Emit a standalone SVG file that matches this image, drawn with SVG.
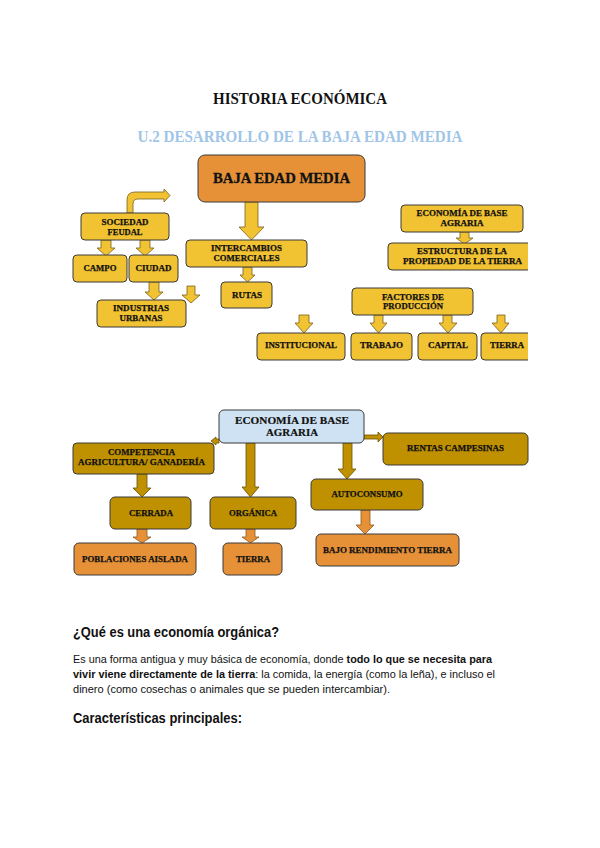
<svg xmlns="http://www.w3.org/2000/svg" width="600" height="848" viewBox="0 0 600 848">
<style>
.bx{stroke:#3b3b3b;stroke-width:1}
.y{fill:#F1C232}
.o{fill:#E69138}
.ol{fill:#BF9000}
.bl{fill:#CFE2F3}
.t{font-family:"Liberation Serif","Times New Roman",serif;font-weight:bold;fill:#111;stroke:#111;stroke-width:0.25;text-anchor:middle;font-size:8.5px}
.ay{fill:#F1C232;stroke:#7a6020;stroke-width:0.8}
.ao{fill:#E69138;stroke:#8a5a20;stroke-width:0.8}
.aol{fill:#BF9000;stroke:#6b5000;stroke-width:0.8}
.s{font-family:"Liberation Sans",Arial,sans-serif;fill:#111}
</style>
<defs>
<clipPath id="clip"><rect x="0" y="0" width="528" height="848"/></clipPath>
</defs>
<rect width="600" height="848" fill="#fff"/>
<text x="300" y="104" font-family="Liberation Serif,serif" font-weight="bold" font-size="16" text-anchor="middle" textLength="174" lengthAdjust="spacingAndGlyphs" fill="#111">HISTORIA ECONÓMICA</text>
<text x="300" y="142" font-family="Liberation Serif,serif" font-weight="bold" font-size="16" text-anchor="middle" textLength="325" lengthAdjust="spacingAndGlyphs" fill="#9FC5E8">U.2 DESARROLLO DE LA BAJA EDAD MEDIA</text>

<g id="connectors">
<path class="ay" d="M127,213 V200 Q127,192 135,192 H164 V189 L170,195.5 L164,202 V199 H138 Q133,199 133,204 V213 Z"/>
<path class="ay" d="M245,202 H258 V227 H264 L251.5,240 L239,227 H245 Z"/>
<path class="ay" d="M243,267 H252 V275 H255 L247.5,282 L240,275 H243 Z"/>
<path class="ay" d="M101,240 H111 V248 H115 L106,256 L97,248 H101 Z"/>
<path class="ay" d="M140,240 H150 V248 H154 L145,256 L136,248 H140 Z"/>
<path class="ay" d="M149,282 H159 V292 H163 L154,300 L145,292 H149 Z"/>
<path class="ay" d="M187,286 H195 V295 H200 L191,303 L182,295 H187 Z"/>
<path class="ay" d="M460,232 H469 V238 H473 L464.5,244 L456,238 H460 Z"/>
<path class="ay" d="M299,315 H309 V323 H313 L304,333 L295,323 H299 Z"/>
<path class="ay" d="M374,315 H383 V323 H387 L378.5,333 L370,323 H374 Z"/>
<path class="ay" d="M443,315 H452 V323 H457 L448,333 L439,323 H443 Z"/>
<path class="ay" d="M497,315 H505 V323 H509 L501,333 L492,323 H497 Z"/>

<path class="aol" d="M219,439 H216 V437 L211,441 L216,445 V443 H219 Z"/>
<path class="aol" d="M246,443 H255 V487 H259 L250.5,497 L242,487 H246 Z"/>
<path class="aol" d="M137,474 H147 V488 H151 L142,497 L133,488 H137 Z"/>
<path class="aol" d="M343,443 H352 V469 H356 L347,479 L338,469 H343 Z"/>
<path class="aol" d="M364,435 H378 V432 L383,437 L378,442 V439 H364 Z"/>
<path class="ao" d="M137,529 H147 V537 H151 L142,543 L133,537 H137 Z"/>
<path class="ao" d="M246,529 H255 V537 H259 L250.5,543 L242,537 H246 Z"/>
<path class="ao" d="M361,510 H370 V525 H374 L365,534 L356,525 H361 Z"/>
</g>

<g id="baja">
<rect class="bx o" x="198" y="155" width="167" height="47" rx="7"/>
<text class="t" x="281.5" y="183" style="font-size:15px;stroke-width:0.3" textLength="137" lengthAdjust="spacingAndGlyphs">BAJA EDAD MEDIA</text>
</g>
<g id="sociedad">
<rect class="bx y" x="81" y="213" width="88" height="27" rx="4"/>
<text class="t" x="125" y="225" textLength="47" lengthAdjust="spacingAndGlyphs">SOCIEDAD</text>
<text class="t" x="125" y="235" textLength="35" lengthAdjust="spacingAndGlyphs">FEUDAL</text>
</g>
<g id="campo">
<rect class="bx y" x="73" y="255" width="54" height="27" rx="4"/>
<text class="t" x="100" y="271" textLength="33" lengthAdjust="spacingAndGlyphs">CAMPO</text>
</g>
<g id="ciudad">
<rect class="bx y" x="129" y="255" width="49" height="27" rx="4"/>
<text class="t" x="153.5" y="271" textLength="36" lengthAdjust="spacingAndGlyphs">CIUDAD</text>
</g>
<g id="industrias">
<rect class="bx y" x="97" y="300" width="89" height="27" rx="4"/>
<text class="t" x="141" y="311" textLength="56" lengthAdjust="spacingAndGlyphs">INDUSTRIAS</text>
<text class="t" x="141" y="321" textLength="43" lengthAdjust="spacingAndGlyphs">URBANAS</text>
</g>
<g id="intercambios">
<rect class="bx y" x="186" y="240" width="121" height="27" rx="4"/>
<text class="t" x="246.5" y="251" textLength="71" lengthAdjust="spacingAndGlyphs">INTERCAMBIOS</text>
<text class="t" x="246.5" y="261" textLength="66" lengthAdjust="spacingAndGlyphs">COMERCIALES</text>
</g>
<g id="rutas">
<rect class="bx y" x="221" y="282" width="51" height="26" rx="4"/>
<text class="t" x="247" y="298" textLength="30" lengthAdjust="spacingAndGlyphs">RUTAS</text>
</g>
<g id="economia1">
<rect class="bx y" x="401" y="205" width="122" height="27" rx="4"/>
<text class="t" x="462" y="216" textLength="91" lengthAdjust="spacingAndGlyphs">ECONOMÍA DE BASE</text>
<text class="t" x="462" y="226" textLength="43" lengthAdjust="spacingAndGlyphs">AGRARIA</text>
</g>
<g id="estructura" clip-path="url(#clip)">
<rect class="bx y" x="388" y="243" width="150" height="27" rx="4"/>
<text class="t" x="462" y="254" textLength="90" lengthAdjust="spacingAndGlyphs">ESTRUCTURA DE LA</text>
<text class="t" x="462.5" y="264" textLength="119" lengthAdjust="spacingAndGlyphs">PROPIEDAD DE LA TIERRA</text>
</g>
<g id="factores">
<rect class="bx y" x="352" y="288" width="121" height="27" rx="4"/>
<text class="t" x="413" y="300" textLength="62" lengthAdjust="spacingAndGlyphs">FACTORES DE</text>
<text class="t" x="413" y="309" textLength="60" lengthAdjust="spacingAndGlyphs">PRODUCCIÓN</text>
</g>
<g id="institucional">
<rect class="bx y" x="257" y="333" width="88" height="27" rx="4"/>
<text class="t" x="301" y="348" textLength="72" lengthAdjust="spacingAndGlyphs">INSTITUCIONAL</text>
</g>
<g id="trabajo">
<rect class="bx y" x="351" y="333" width="61" height="27" rx="4"/>
<text class="t" x="381.5" y="348" textLength="43" lengthAdjust="spacingAndGlyphs">TRABAJO</text>
</g>
<g id="capital">
<rect class="bx y" x="418" y="333" width="59" height="27" rx="4"/>
<text class="t" x="448" y="348" textLength="40" lengthAdjust="spacingAndGlyphs">CAPITAL</text>
</g>
<g id="tierra1" clip-path="url(#clip)">
<rect class="bx y" x="481" y="333" width="55" height="27" rx="4"/>
<text class="t" x="507" y="348" textLength="34" lengthAdjust="spacingAndGlyphs">TIERRA</text>
</g>

<g id="economia2">
<rect class="bx bl" x="219" y="410" width="145" height="33" rx="5" stroke="#555"/>
<text class="t" x="292" y="424" style="font-size:10.5px;stroke-width:0.2" textLength="114" lengthAdjust="spacingAndGlyphs">ECONOMÍA DE BASE</text>
<text class="t" x="292" y="436" style="font-size:10.5px;stroke-width:0.2" textLength="52" lengthAdjust="spacingAndGlyphs">AGRARIA</text>
</g>
<g id="competencia">
<rect class="bx ol" x="73" y="443" width="141" height="31" rx="4"/>
<text class="t" x="141.5" y="455" textLength="67" lengthAdjust="spacingAndGlyphs">COMPETENCIA</text>
<text class="t" x="141.5" y="465" textLength="127" lengthAdjust="spacingAndGlyphs">AGRICULTURA/ GANADERÍA</text>
</g>
<g id="cerrada">
<rect class="bx ol" x="110" y="497" width="81" height="32" rx="5"/>
<text class="t" x="151" y="516" textLength="44" lengthAdjust="spacingAndGlyphs">CERRADA</text>
</g>
<g id="organica">
<rect class="bx ol" x="210" y="497" width="86" height="32" rx="5"/>
<text class="t" x="253" y="516" textLength="48" lengthAdjust="spacingAndGlyphs">ORGÁNICA</text>
</g>
<g id="poblaciones">
<rect class="bx o" x="74" y="543" width="122" height="32" rx="5"/>
<text class="t" x="135" y="562" textLength="106" lengthAdjust="spacingAndGlyphs">POBLACIONES AISLADA</text>
</g>
<g id="tierra2">
<rect class="bx o" x="223" y="543" width="59" height="32" rx="5"/>
<text class="t" x="253" y="562" textLength="34" lengthAdjust="spacingAndGlyphs">TIERRA</text>
</g>
<g id="autoconsumo">
<rect class="bx ol" x="311" y="479" width="112" height="31" rx="5"/>
<text class="t" x="367" y="497" textLength="71" lengthAdjust="spacingAndGlyphs">AUTOCONSUMO</text>
</g>
<g id="bajorend">
<rect class="bx o" x="316" y="534" width="143" height="32" rx="5"/>
<text class="t" x="387.5" y="553" textLength="129" lengthAdjust="spacingAndGlyphs">BAJO RENDIMIENTO TIERRA</text>
</g>
<g id="rentas">
<rect class="bx ol" x="383" y="433" width="145" height="32" rx="5"/>
<text class="t" x="455.5" y="451" textLength="97" lengthAdjust="spacingAndGlyphs">RENTAS CAMPESINAS</text>
</g>

<text class="s" x="73" y="637" font-size="14" font-weight="bold" textLength="206" lengthAdjust="spacingAndGlyphs">¿Qué es una economía orgánica?</text>
<text class="s" x="73" y="663" font-size="11" textLength="419" lengthAdjust="spacingAndGlyphs">Es una forma antigua y muy básica de economía, donde <tspan font-weight="bold">todo lo que se necesita para</tspan></text>
<text class="s" x="73" y="678" font-size="11" textLength="422" lengthAdjust="spacingAndGlyphs"><tspan font-weight="bold">vivir viene directamente de la tierra</tspan>: la comida, la energía (como la leña), e incluso el</text>
<text class="s" x="73" y="693" font-size="11" textLength="317" lengthAdjust="spacingAndGlyphs">dinero (como cosechas o animales que se pueden intercambiar).</text>
<text class="s" x="73" y="723" font-size="14" font-weight="bold" textLength="169" lengthAdjust="spacingAndGlyphs">Características principales:</text>
</svg>
